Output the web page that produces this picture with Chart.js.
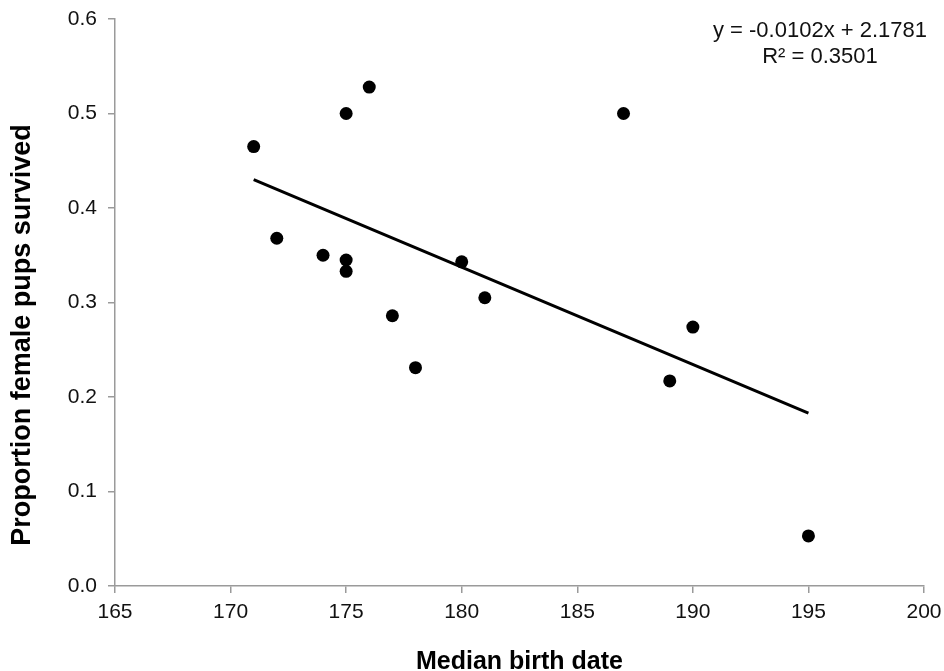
<!DOCTYPE html>
<html>
<head>
<meta charset="utf-8">
<script src="https://cdn.jsdelivr.net/npm/chart.js@4/dist/chart.umd.min.js"></script>
<style>
html,body{margin:0;padding:0;background:#fff;}
#wrap{position:relative;width:944px;height:671px;}
</style>
</head>
<body>
<div id="wrap"><canvas id="c"></canvas></div>
<script>
// Data
const birthDates = [171, 172, 174, 175, 175, 175, 176, 177, 178, 180, 181, 187, 189, 190, 195];
const proportionSurvived = [0.465, 0.368, 0.350, 0.500, 0.345, 0.333, 0.528, 0.286, 0.231, 0.343, 0.305, 0.500, 0.217, 0.274, 0.053];
const trendX = [171, 195];
const trendY = [0.430, 0.183];
const xTickValues = [165, 170, 175, 180, 185, 190, 195, 200];
const yTickValues = [0.0, 0.1, 0.2, 0.3, 0.4, 0.5, 0.6];
const equationLines = ['y = -0.0102x + 2.1781', 'R\u00B2 = 0.3501'];
const xTitle = 'Median birth date';
const yTitle = 'Proportion female pups survived';

const FONT = "'Liberation Sans', Arial, Helvetica, sans-serif";
Chart.defaults.font.family = FONT;
Chart.defaults.color = '#111';

const points = birthDates.map((d, i) => ({x: d, y: proportionSurvived[i]}));
const trend = trendX.map((d, i) => ({x: d, y: trendY[i]}));

const annotations = {
  id: 'annotations',
  afterDraw(chart) {
    const ctx = chart.ctx;
    ctx.save();
    ctx.fillStyle = '#111';
    // regression equation
    ctx.font = "22px " + FONT;
    ctx.textAlign = 'center';
    ctx.textBaseline = 'alphabetic';
    ctx.fillText(equationLines[0], 820, 37);
    ctx.fillText(equationLines[1], 820, 62.5);
    // y-axis title
    ctx.font = "bold 27px " + FONT;
    ctx.translate(23, 335);
    ctx.rotate(-Math.PI / 2);
    ctx.textAlign = 'center';
    ctx.textBaseline = 'middle';
    ctx.fillStyle = '#000';
    ctx.fillText(yTitle, 0, 0);
    ctx.restore();
  }
};

new Chart(document.getElementById('c'), {
  type: 'scatter',
  data: {
    datasets: [
      {
        label: 'Trend',
        type: 'line',
        data: trend,
        showLine: true,
        borderColor: '#000',
        borderWidth: 3,
        pointRadius: 0,
        fill: false,
        order: 0
      },
      {
        label: 'Proportion',
        data: points,
        backgroundColor: '#000',
        borderColor: '#000',
        borderWidth: 0,
        pointRadius: 6.5,
        order: 1
      }
    ]
  },
  options: {
    responsive: true,
    maintainAspectRatio: false,
    animation: false,
    devicePixelRatio: 1,
    layout: {padding: {left: 0, right: 20, top: 19, bottom: 0}},
    plugins: {legend: {display: false}, tooltip: {enabled: false}},
    scales: {
      x: {
        type: 'linear',
        min: 165, max: 200,
        afterBuildTicks(scale) { scale.ticks = xTickValues.map(v => ({value: v})); },
        afterFit(scale) { scale.height = 85; scale.paddingLeft = 0; scale.paddingRight = 0; },
        grid: {display: true, drawOnChartArea: false, drawTicks: true, tickLength: 7, color: '#9a9a9a', lineWidth: 1.5},
        border: {display: true, color: '#9a9a9a', width: 1.5},
        ticks: {font: {size: 21}, padding: 7, color: '#111', maxRotation: 0, callback: v => String(v)},
        title: {display: true, text: xTitle, color: '#000', font: {size: 25, weight: 'bold'}, padding: {top: 0, bottom: -6}}
      },
      y: {
        type: 'linear',
        min: 0, max: 0.6,
        afterBuildTicks(scale) { scale.ticks = yTickValues.map(v => ({value: v})); },
        afterFit(scale) { scale.width = 115; scale.paddingTop = 0; scale.paddingBottom = 0; },
        grid: {display: true, drawOnChartArea: false, drawTicks: true, tickLength: 7, color: '#9a9a9a', lineWidth: 1.5},
        border: {display: true, color: '#9a9a9a', width: 1.5},
        ticks: {font: {size: 21}, padding: 11, color: '#111', callback: v => Number(v).toFixed(1)}
      }
    }
  },
  plugins: [annotations]
});
</script>
</body>
</html>
